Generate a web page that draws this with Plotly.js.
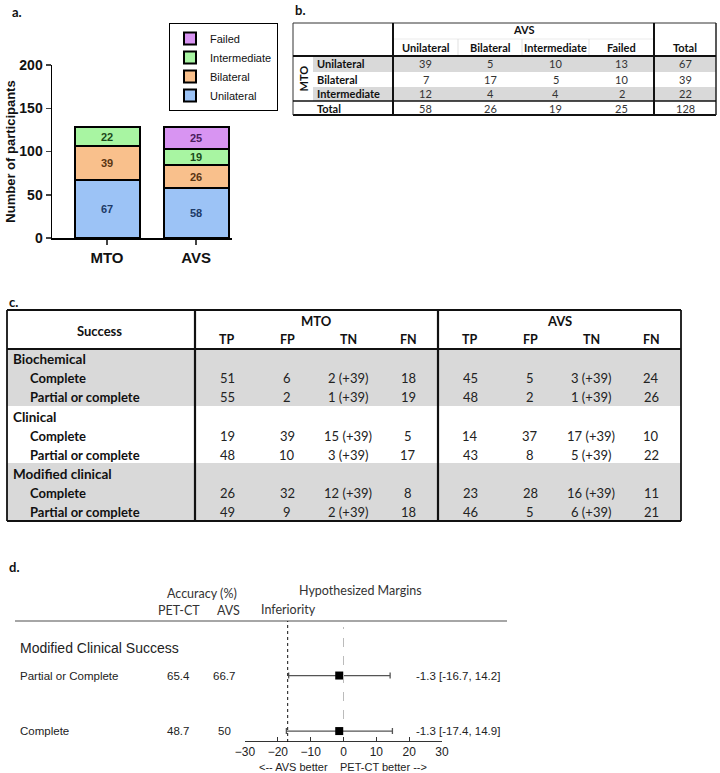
<!DOCTYPE html>
<html>
<head>
<meta charset="utf-8">
<script src="https://cdn.plot.ly/plotly-3.0.1.min.js"></script>
<style>html,body{margin:0;padding:0;background:#fff;}#chart{width:720px;height:773px;}</style>
</head>
<body>
<div id="chart"></div>
<script>
// ---------- Panel a data ----------
const groups = ['MTO', 'AVS'];
const unilateral = [67, 58];
const bilateral = [39, 26];
const intermediate = [22, 19];
const failed = [null, 25];

// ---------- Panel b data ----------
const avsCats = ['Unilateral', 'Bilateral', 'Intermediate', 'Failed'];
const mtoCats = ['Unilateral', 'Bilateral', 'Intermediate'];
const crossTab = [[39, 5, 10, 13], [7, 17, 5, 10], [12, 4, 4, 2]];
const rowTotals = [67, 39, 22];
const colTotals = [58, 26, 19, 25];
const grandTotal = 128;

// ---------- Panel c data ----------
const successGroups = ['Biochemical', 'Clinical', 'Modified clinical'];
const successLevels = ['Complete', 'Partial or complete'];
const metricCols = ['TP', 'FP', 'TN', 'FN'];
const mtoTP = [51, 55, 19, 48, 26, 49];
const mtoFP = [6, 2, 39, 10, 32, 9];
const mtoTN = [2, 1, 15, 3, 12, 2];
const mtoFN = [18, 19, 5, 17, 8, 18];
const avsTP = [45, 48, 14, 43, 23, 46];
const avsFP = [5, 2, 37, 8, 28, 5];
const avsTN = [3, 1, 17, 5, 16, 6];
const avsFN = [24, 26, 10, 22, 11, 21];
const tnExtra = 39;

// ---------- Panel d data ----------
const outcomes = ['Partial or Complete', 'Complete'];
const outcomeRow = [2, 1];
const accPET = ['65.4', '48.7'];
const accAVS = ['66.7', '50'];
const diffEst = [-1.3, -1.3];
const ciLow = [-16.7, -17.4];
const ciHigh = [14.2, 14.9];
const margin = -17;
const forestTicks = [-30, -20, -10, 0, 10, 20, 30];

// ---------- helpers ----------
const W = 720, H = 773;
const X = p => p / W;
const Y = p => 1 - p / H;
const CAL = 'Lato, "Open Sans", sans-serif';
const ARI = '"Liberation Sans", Arial, sans-serif';
const annotations = [];
const shapes = [];
function ann(x, y, text, o) {
  o = o || {};
  annotations.push({
    xref: o.xref || 'paper', yref: o.yref || 'paper',
    x: o.xref ? x : X(x), y: o.yref ? y : Y(y),
    text: String(text), showarrow: false,
    xanchor: o.xanchor || 'center', yanchor: 'middle',
    textangle: o.angle || 0,
    font: {family: o.family || CAL, size: o.size || 12, color: o.color || '#111', weight: o.bold ? 700 : 400}
  });
}
function rect(x0, y0, x1, y1, fill) {
  shapes.push({type: 'rect', xref: 'paper', yref: 'paper', x0: X(x0), x1: X(x1), y0: Y(y0), y1: Y(y1),
    fillcolor: fill, line: {width: 0}, layer: 'below'});
}
function line(x0, y0, x1, y1, w, c, dash) {
  shapes.push({type: 'line', xref: 'paper', yref: 'paper', x0: X(x0), x1: X(x1), y0: Y(y0), y1: Y(y1),
    line: {width: w, color: c || '#111', dash: dash || 'solid'}});
}

// ---------- Panel labels ----------
ann(10, 12, 'a.', {bold: true, size: 13, xanchor: 'left'});
ann(293, 10, 'b.', {bold: true, size: 13, xanchor: 'left'});
ann(7, 302, 'c.', {bold: true, size: 13, xanchor: 'left'});
ann(7, 567, 'd.', {bold: true, size: 13, xanchor: 'left'});

// ---------- Panel a traces ----------
const barSpecs = [
  {name: 'Unilateral', y: unilateral, color: '#9cc3f6', tc: '#1d3a66'},
  {name: 'Bilateral', y: bilateral, color: '#f9c08c', tc: '#5a3512'},
  {name: 'Intermediate', y: intermediate, color: '#a8f5a2', tc: '#1c4a1a'},
  {name: 'Failed', y: failed, color: '#d894f2', tc: '#4a1d5e'}
];
const traces = barSpecs.map(s => ({
  type: 'bar', x: groups, y: s.y, name: s.name, width: 0.73,
  marker: {color: s.color, line: {color: '#000', width: 2}},
  texttemplate: '%{y}', textposition: 'inside', insidetextanchor: 'middle', constraintext: 'none',
  textfont: {family: ARI, size: 11, color: s.tc, weight: 700},
  xaxis: 'x', yaxis: 'y', hoverinfo: 'skip'
}));

// ---------- Panel b table ----------
const bx = [293, 313, 393, 458, 522, 589, 654, 716];
const bRowTop = [56, 72, 87, 101];
const bBottom = 115;
for (let i = 0; i < mtoCats.length; i += 2) rect(bx[1], bRowTop[i], bx[7], bRowTop[i + 1], '#d9d9d9');
for (let j = 3; j <= 5; j++) line(bx[j], 39, bx[j], 56, 0.6, '#cfcfcf');
line(bx[2], 39, bx[6], 39, 0.6, '#dddddd');
line(bx[0], 23, bx[7], 23, 1, '#333');
line(bx[0], bBottom, bx[7], bBottom, 1.8, '#111');
line(bx[0], 23, bx[0], bBottom, 1, '#333');
line(bx[7], 23, bx[7], bBottom, 1.5, '#222');
line(bx[2], 23, bx[2], bBottom, 2, '#111');
line(bx[6], 23, bx[6], bBottom, 2, '#111');
line(bx[0], 56, bx[7], 56, 2, '#111');
line(bx[0], 101, bx[7], 101, 1.5, '#111');
ann((bx[2] + bx[6]) / 2, 30, 'AVS', {bold: true, size: 11});
avsCats.forEach((c, j) => ann((bx[j + 2] + bx[j + 3]) / 2, 47, c, {bold: true, size: 11}));
ann((bx[6] + bx[7]) / 2, 47, 'Total', {bold: true, size: 11});
ann((bx[0] + bx[1]) / 2, (56 + 101) / 2, 'MTO', {bold: true, size: 11, angle: -90});
const bRowY = [64, 79.5, 94];
mtoCats.forEach((c, i) => {
  ann(bx[1] + 2, bRowY[i], c, {bold: true, size: 11, xanchor: 'left'});
  crossTab[i].forEach((v, j) => ann((bx[j + 2] + bx[j + 3]) / 2, bRowY[i], v, {size: 11, color: '#333'}));
  ann((bx[6] + bx[7]) / 2, bRowY[i], rowTotals[i], {size: 11, color: '#333'});
});
ann(bx[1] + 2, 108.5, 'Total', {bold: true, size: 11, xanchor: 'left'});
colTotals.forEach((v, j) => ann((bx[j + 2] + bx[j + 3]) / 2, 108.5, v, {size: 11, color: '#333'}));
ann((bx[6] + bx[7]) / 2, 108.5, grandTotal, {size: 11, color: '#333'});

// ---------- Panel c table ----------
const cL = 7, cM = 195, cA = 438, cR = 681, cTop = 310, cHead = 349, cBot = 521;
const cBlocks = [[349, 406], [406, 463], [463, 521]];
rect(cL, cBlocks[0][0], cR, cBlocks[0][1], '#d9d9d9');
rect(cL, cBlocks[2][0], cR, cBlocks[2][1], '#d9d9d9');
line(cL, cTop, cR, cTop, 1.8);
line(cL, cBot, cR, cBot, 1.8);
line(cL, cTop, cL, cBot, 1.8);
line(cR, cTop, cR, cBot, 1.8);
line(cL, cHead, cR, cHead, 2.2);
line(cM, cTop, cM, cBot, 2.2);
line(cA, cTop, cA, cBot, 2.2);
ann((cL + cM) / 2 - 2, 331, 'Success', {bold: true, size: 13});
ann((cM + cA) / 2, 321, 'MTO', {bold: true, size: 13});
ann((cA + cR) / 2, 321, 'AVS', {bold: true, size: 13});
const colOff = [32, 92, 153, 213];
metricCols.forEach((m, k) => {
  ann(cM + colOff[k], 339, m, {bold: true, size: 12.5});
  ann(cA + colOff[k], 339, m, {bold: true, size: 12.5});
});
const groupY = [359, 417, 474];
const rowStep = 19;
successGroups.forEach((g, gi) => {
  ann(cL + 4, groupY[gi], g, {bold: true, size: 13.5, xanchor: 'left'});
  successLevels.forEach((lv, li) => {
    const r = gi * 2 + li;
    const y = groupY[gi] + rowStep * (li + 1);
    ann(cL + 21, y, lv, {bold: true, size: 13, xanchor: 'left'});
    const mto = [mtoTP[r], mtoFP[r], mtoTN[r] + ' (+' + tnExtra + ')', mtoFN[r]];
    const avs = [avsTP[r], avsFP[r], avsTN[r] + ' (+' + tnExtra + ')', avsFN[r]];
    mto.forEach((v, k) => ann(cM + colOff[k], y, v, {size: 13, color: '#222'}));
    avs.forEach((v, k) => ann(cA + colOff[k], y, v, {size: 13, color: '#222'}));
  });
});

// ---------- Panel d forest ----------
line(15, 621, 507, 621, 1.5, '#888');
ann(202, 593, 'Accuracy (%)', {size: 12.5, color: '#333'});
ann(179, 610, 'PET-CT', {size: 12.5, color: '#333'});
ann(228, 610, 'AVS', {size: 12.5, color: '#333'});
ann(360, 590, 'Hypothesized Margins', {size: 12.5, color: '#333'});
ann(288, 609, 'Inferiority', {size: 12.5, color: '#333'});
ann(18, 648, 'Modified Clinical Success', {family: ARI, size: 14, color: '#222', xanchor: 'left'});
outcomes.forEach((o, i) => {
  ann(18, outcomeRow[i], o, {family: ARI, size: 11.5, color: '#222', xanchor: 'left', yref: 'y4'});
  ann(178, outcomeRow[i], accPET[i], {family: ARI, size: 11.5, color: '#222', yref: 'y4'});
  ann(224, outcomeRow[i], accAVS[i], {family: ARI, size: 11.5, color: '#222', yref: 'y4'});
  ann(502, outcomeRow[i], diffEst[i].toFixed(1) + ' [' + ciLow[i].toFixed(1) + ', ' + ciHigh[i].toFixed(1) + ']',
      {family: ARI, size: 11.5, color: '#222', xanchor: 'right', yref: 'y4'});
});
shapes.push({type: 'line', xref: 'x4', yref: 'paper', x0: margin, x1: margin, y0: Y(742), y1: Y(621),
  line: {width: 1, color: '#111', dash: 'dot'}});
shapes.push({type: 'line', xref: 'x4', yref: 'paper', x0: 0, x1: 0, y0: Y(719), y1: Y(627),
  line: {width: 1, color: '#bbbbbb', dash: 'dash'}});
ann(293, 766.5, '&lt;-- AVS better', {family: ARI, size: 11, color: '#222'});
ann(383, 766.5, 'PET-CT better --&gt;', {family: ARI, size: 11, color: '#222'});

traces.push({
  type: 'scatter', mode: 'markers', x: diffEst, y: outcomeRow, xaxis: 'x4', yaxis: 'y4',
  showlegend: false, hoverinfo: 'skip',
  marker: {symbol: 'square', size: 8, color: '#000'},
  error_x: {type: 'data', symmetric: false,
    array: diffEst.map((d, i) => ciHigh[i] - d),
    arrayminus: diffEst.map((d, i) => d - ciLow[i]),
    color: '#555', thickness: 1.3, width: 3}
});

const layout = {
  width: W, height: H, margin: {l: 0, r: 0, t: 0, b: 0},
  paper_bgcolor: '#fff', plot_bgcolor: 'rgba(0,0,0,0)',
  barmode: 'stack',
  font: {family: ARI, color: '#111'},
  showlegend: true,
  legend: {x: X(278), y: Y(23), xanchor: 'right', yanchor: 'top', traceorder: 'reversed',
    bordercolor: '#000', borderwidth: 1, bgcolor: '#fff',
    font: {family: ARI, size: 11, color: '#111'},
    itemwidth: 30, tracegroupgap: 0},
  xaxis: {domain: [X(52), X(232)], type: 'category', range: [-0.618, 1.404],
    showline: true, linecolor: '#000', linewidth: 1.5, ticks: 'outside', ticklen: 5, tickwidth: 1.5,
    tickfont: {family: ARI, size: 15, weight: 700, color: '#111'}, fixedrange: true},
  yaxis: {domain: [Y(238), Y(65)], range: [0, 200], dtick: 50, showline: true, linecolor: '#000', linewidth: 1.5,
    ticks: 'outside', ticklen: 5, tickwidth: 1.5, showgrid: false, zeroline: false,
    tickfont: {family: ARI, size: 14, weight: 700, color: '#111'},
    title: {text: 'Number of participants', font: {family: ARI, size: 13, weight: 700, color: '#111'}, standoff: 1}},
  xaxis4: {domain: [X(245), X(442)], range: [-30, 30], tickvals: forestTicks, anchor: 'y4',
    showline: true, linecolor: '#333', linewidth: 1, ticks: 'inside', ticklen: 4, tickcolor: '#333',
    showgrid: false, zeroline: false, tickfont: {family: ARI, size: 12, color: '#222'}},
  yaxis4: {domain: [Y(741), Y(621)], range: [0.821, 2.982], visible: false, anchor: 'x4'},
  annotations: annotations,
  shapes: shapes
};
Plotly.newPlot('chart', traces, layout, {staticPlot: true, displayModeBar: false});
</script>
</body>
</html>
